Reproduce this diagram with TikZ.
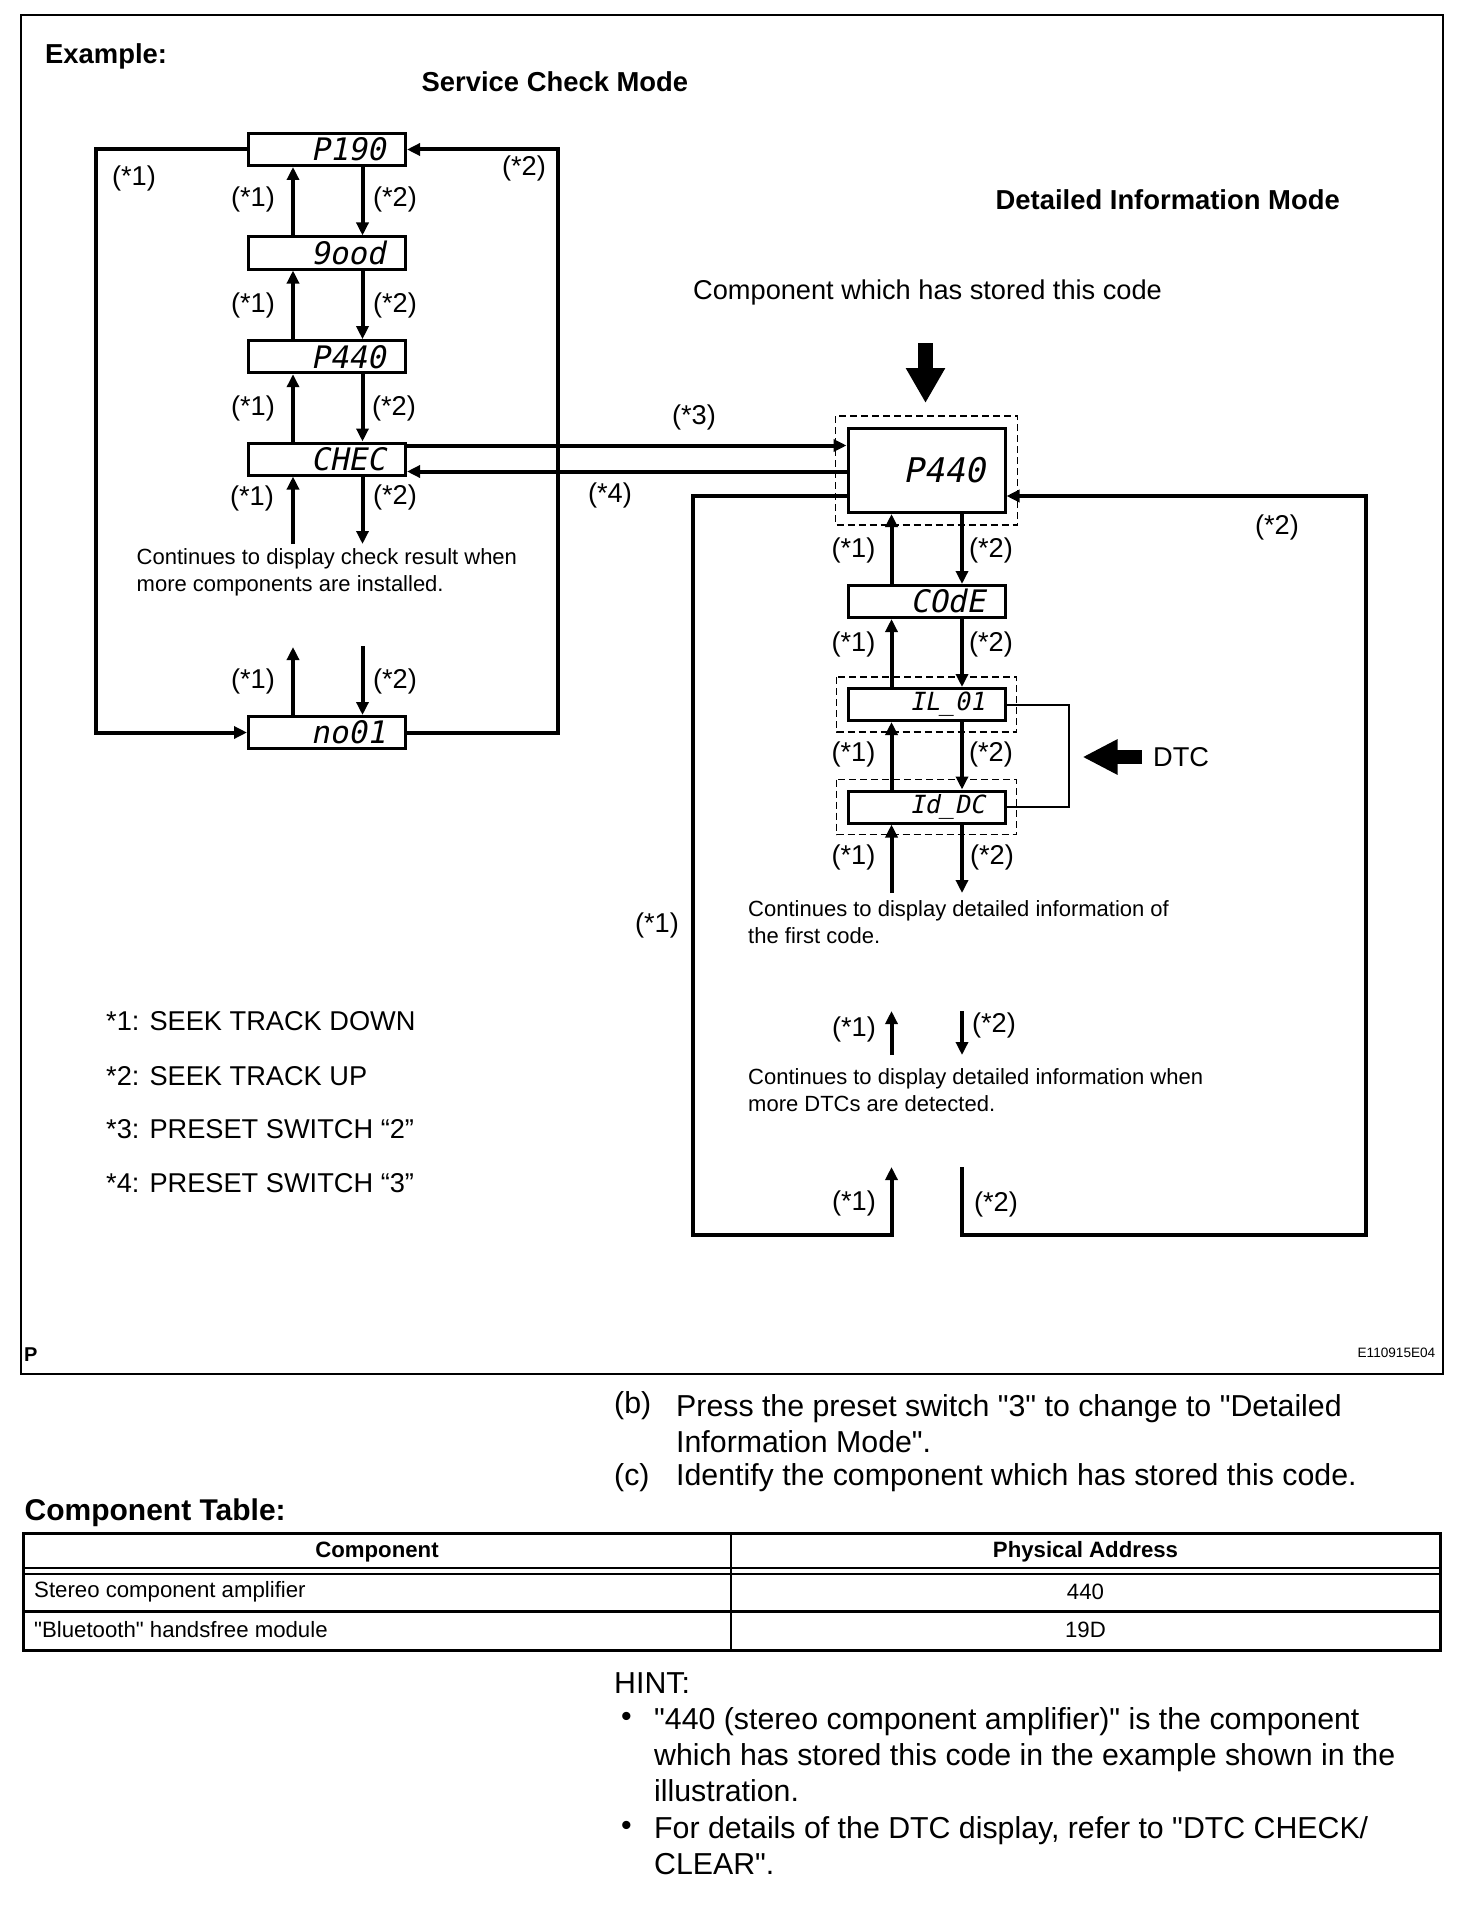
\documentclass[tikz,border=0pt]{standalone}
\usepackage{fontspec}
\setmainfont{Liberation Sans}[Ligatures=TeXOff]
\newfontfamily\lcdfont{DejaVu Sans Mono}[FakeSlant=0.2]
\usetikzlibrary{arrows.meta}
\tikzset{
  % display window of the head unit
  lcd/.style={draw, line width=3pt, minimum width=157pt, minimum height=32pt,
    inner xsep=20pt, inner ysep=0pt, text width=117pt, align=right,
    text height=22.6pt, text depth=0pt, font=\lcdfont\fontsize{31}{31}\selectfont},
  lcdbig/.style={lcd, minimum height=84pt, text height=24.8pt,
    font=\lcdfont\fontsize{34}{34}\selectfont},
  % room for the underscore segment
  lcdlow/.style={lcd, text height=18.5pt, text depth=6.5pt,
    font=\lcdfont\fontsize{25}{25}\selectfont},
  dashbox/.style={draw, line width=1.5pt, dash pattern=on 7pt off 4pt},
  % button arrows
  arr/.style={line width=4pt, -{Triangle[length=13pt,width=12pt]}},
  fatarrow/.style={line width=15pt, -{Triangle[length=35pt,width=37pt]}},
  lbl/.style={inner sep=0pt, font=\fontsize{27.2}{28}\selectfont},
  head/.style={inner sep=0pt, anchor=west, font=\bfseries\fontsize{27.4}{30}\selectfont},
  note/.style={inner sep=0pt, anchor=north west, align=left, font=\fontsize{22}{26.8}\selectfont},
  body/.style={inner sep=0pt, anchor=west, align=left, font=\fontsize{30.3}{36}\selectfont},
  cell/.style={inner sep=0pt, font=\fontsize{22.2}{24}\selectfont},
}
\begin{document}
\begin{tikzpicture}[x=1pt,y=-1pt]
    \useasboundingbox (0,0) rectangle (1472,1910);
    \draw[line width=2pt] (21,15) rectangle (1443,1374);
    \node[head] (example) at (45,56) {Example:};
    \node[head] (svcmode) at (421.5,81.5) {Service Check Mode};
    \node[head] (detmode) at (995.5,200) {Detailed Information Mode};

    % service check mode
    \node[lcd] (p190) at (327,149.5) {P190};
    \node[lcd] (good) at (327,253) {9ood};
    \node[lcd] (p440) at (327,356.7) {P440};
    \node[lcd] (chec) at (327,459) {CHEC};
    \node[lcd] (no01) at (327,732.5) {no01};

    \draw[arr] ([xshift=-34pt]good.north) -- ([xshift=-34pt]p190.south);
    \draw[arr] ([xshift=35.5pt]p190.south) -- ([xshift=35.5pt]good.north);
    \draw[arr] ([xshift=-34pt]p440.north) -- ([xshift=-34pt]good.south);
    \draw[arr] ([xshift=35.5pt]good.south) -- ([xshift=35.5pt]p440.north);
    \draw[arr] ([xshift=-34pt]chec.north) -- ([xshift=-34pt]p440.south);
    \draw[arr] ([xshift=35.5pt]p440.south) -- ([xshift=35.5pt]chec.north);
    \coordinate (cbot1) at (293,544);
    \coordinate (cbot2) at (362.5,544);
    \draw[arr] (cbot1) -- ([xshift=-34pt]chec.south);
    \draw[arr] ([xshift=35.5pt]chec.south) -- (cbot2);
    \coordinate (ntop1) at (293,647);
    \coordinate (ntop2) at (362.5,646);
    \draw[arr] ([xshift=-34pt]no01.north) -- (ntop1);
    \draw[arr] (ntop2) -- ([xshift=35.5pt]no01.north);
    \coordinate (lloop) at (96,440);
    \coordinate (rloop) at (558,440);
    \draw[arr] (p190.west) -| (lloop) |- (no01.west);
    \draw[arr] (no01.east) -| (rloop) |- (p190.east);

    \node[lbl] (s1a) at (253,199) {(*1)};
    \node[lbl] (s2a) at (395,199) {(*2)};
    \node[lbl] (s1b) at (253,305) {(*1)};
    \node[lbl] (s2b) at (395,305) {(*2)};
    \node[lbl] (s1c) at (253,408.5) {(*1)};
    \node[lbl] (s2c) at (394,408) {(*2)};
    \node[lbl] (s1d) at (252,498.5) {(*1)};
    \node[lbl] (s2d) at (395,497) {(*2)};
    \node[lbl] (s1e) at (253,681) {(*1)};
    \node[lbl] (s2e) at (395,681) {(*2)};
    \node[lbl] (s1loop) at (134,178) {(*1)};
    \node[lbl] (s2loop) at (524,168) {(*2)};
    \node[note] (chkmore) at (136.5,548.5) {Continues to display check result when\\more components are installed.};

    % detailed information mode
    \node[lbl, anchor=west] (stored) at (693,292.4) {Component which has stored this code};
    \coordinate (cmptail) at (925.5,343);
    \coordinate (cmptip) at (925.5,403);
    \draw[fatarrow] (cmptail) -- (cmptip);

    \node[lcdbig] (p440d) at (926.5,470.5) {P440};
    \node[lcd] (code) at (926.5,601.5) {COdE};
    \node[lcdlow] (il01) at (926.5,704.5) {IL\_01};
    \node[lcdlow] (iddc) at (926.5,807) {Id\_DC};
    \draw[dashbox] ([shift={(-11pt,11pt)}]p440d.north west) rectangle ([shift={(11pt,-11pt)}]p440d.south east);
    \draw[dashbox] ([shift={(-10pt,10pt)}]il01.north west) rectangle ([shift={(10pt,-10pt)}]il01.south east);
    \draw[dashbox] ([shift={(-10pt,10pt)}]iddc.north west) rectangle ([shift={(10pt,-10pt)}]iddc.south east);

    \coordinate (c3) at ([yshift=-4pt]chec.north east);
    \coordinate (c4) at ([yshift=5pt]chec.south east);
    \draw[arr] (c3) -- (c3 -| p440d.west);
    \draw[arr] (c4 -| p440d.west) -- (c4);
    \node[lbl] (s3) at (694,417) {(*3)};
    \node[lbl] (s4) at (610,495) {(*4)};

    \draw[arr] ([xshift=-35pt]code.north) -- ([xshift=-35pt]p440d.south);
    \draw[arr] ([xshift=35.5pt]p440d.south) -- ([xshift=35.5pt]code.north);
    \draw[arr] ([xshift=-35pt]il01.north) -- ([xshift=-35pt]code.south);
    \draw[arr] ([xshift=35.5pt]code.south) -- ([xshift=35.5pt]il01.north);
    \draw[arr] ([xshift=-35pt]iddc.north) -- ([xshift=-35pt]il01.south);
    \draw[arr] ([xshift=35.5pt]il01.south) -- ([xshift=35.5pt]iddc.north);
    \coordinate (dbot1) at (891.5,893);
    \coordinate (dbot2) at (962,893);
    \draw[arr] (dbot1) -- ([xshift=-35pt]iddc.south);
    \draw[arr] ([xshift=35.5pt]iddc.south) -- (dbot2);
    \coordinate (dmid1a) at (891.5,1055);
    \coordinate (dmid1b) at (891.5,1011);
    \coordinate (dmid2a) at (962,1011);
    \coordinate (dmid2b) at (962,1055);
    \draw[arr] (dmid1a) -- (dmid1b);
    \draw[arr] (dmid2a) -- (dmid2b);

    \coordinate (dl) at ([yshift=-25.5pt]p440d.west);
    \coordinate (dlcorner) at (693,1235);
    \coordinate (dlend) at (891.5,1167);
    \draw[arr] (dl) -| (dlcorner) -| (dlend);
    \coordinate (drstart) at (962,1167);
    \coordinate (drcorner) at (1366,1235);
    \draw[arr] (drstart) |- (drcorner) |- ([yshift=-25.5pt]p440d.east);

    % DTC bracket
    \draw[line width=2pt] (il01.east) -- ++(62,0) |- (iddc.east);
    \coordinate (dtctail) at (1142,757);
    \coordinate (dtctip) at (1082.5,757);
    \draw[line width=14pt, -{Triangle[length=35pt,width=33pt]}] (dtctail) -- (dtctip);
    \node[lbl, anchor=west] (dtc) at (1153,757) {DTC};

    \node[lbl] (d1a) at (853.5,550) {(*1)};
    \node[lbl] (d2a) at (991,550) {(*2)};
    \node[lbl] (d1b) at (853.5,644) {(*1)};
    \node[lbl] (d2b) at (991,644) {(*2)};
    \node[lbl] (d1c) at (853.5,754) {(*1)};
    \node[lbl] (d2c) at (991,754) {(*2)};
    \node[lbl] (d1d) at (853.5,857) {(*1)};
    \node[lbl] (d2d) at (992,857) {(*2)};
    \node[lbl] (d1e) at (854,1029) {(*1)};
    \node[lbl] (d2e) at (994,1025) {(*2)};
    \node[lbl] (d1f) at (854,1203) {(*1)};
    \node[lbl] (d2f) at (996,1204) {(*2)};
    \node[lbl] (d1loop) at (657,925) {(*1)};
    \node[lbl] (d2loop) at (1277,527) {(*2)};
    \node[note] (firstcode) at (748,900.7) {Continues to display detailed information of\\the first code.};
    \node[note] (moredtc) at (748,1068.7) {Continues to display detailed information when\\more DTCs are detected.};

    % key to the buttons
    \node[lbl, anchor=west] (key1) at (106,1021) {*1: SEEK TRACK DOWN};
    \node[lbl, anchor=west] (key2) at (106,1076) {*2: SEEK TRACK UP};
    \node[lbl, anchor=west] (key3) at (106,1129.6) {*3: PRESET SWITCH “2”};
    \node[lbl, anchor=west] (key4) at (106,1183) {*4: PRESET SWITCH “3”};
    \node[inner sep=0pt, anchor=west, font=\bfseries\fontsize{20}{20}\selectfont] (pmark) at (24,1355) {P};
    \node[inner sep=0pt, anchor=east, font=\fontsize{13.6}{14}\selectfont] (figid) at (1435.5,1352.6) {E110915E04};

    % text below the figure
    \node[body] (bmark) at (614,1406) {(b)};
    \node[body, anchor=north west] (btext) at (676,1394.7) {Press the preset switch "3" to change to "Detailed\\Information Mode".};
    \node[body] (cmark) at (614,1478) {(c)};
    \node[body] (ctext) at (676,1478) {Identify the component which has stored this code.};
    \node[head, font=\bfseries\fontsize{30}{32}\selectfont] (tabtitle) at (24.4,1513) {Component Table:};

    \draw[line width=3pt] (23,1533) rectangle (1440,1650);
    \draw[line width=2pt] (731,1533) -- (731,1650);
    \draw[line width=2pt] (23,1568) -- (1440,1568);
    \draw[line width=2pt] (23,1574) -- (1440,1574);
    \draw[line width=3pt] (23,1611) -- (1440,1611);
    \node[cell, font=\bfseries\fontsize{22.2}{24}\selectfont] (hcomp) at (377,1552) {Component};
    \node[cell, font=\bfseries\fontsize{22.2}{24}\selectfont] (haddr) at (1085.5,1552) {Physical Address};
    \node[cell, anchor=west] (r1c1) at (34,1592) {Stereo component amplifier};
    \node[cell] (r1c2) at (1085.5,1592) {440};
    \node[cell, anchor=west] (r2c1) at (34,1630) {"Bluetooth" handsfree module};
    \node[cell] (r2c2) at (1085.5,1630) {19D};

    \node[body] (hint) at (614,1683) {HINT:};
    \node[body] (bul1) at (621,1719) {•};
    \node[body, anchor=north west] (hint1) at (654,1707.7) {"440 (stereo component amplifier)" is the component\\which has stored this code in the example shown in the\\illustration.};
    \node[body] (bul2) at (621,1828) {•};
    \node[body, anchor=north west] (hint2) at (654,1816.7) {For details of the DTC display, refer to "DTC CHECK/\\CLEAR".};
\end{tikzpicture}
\end{document}
